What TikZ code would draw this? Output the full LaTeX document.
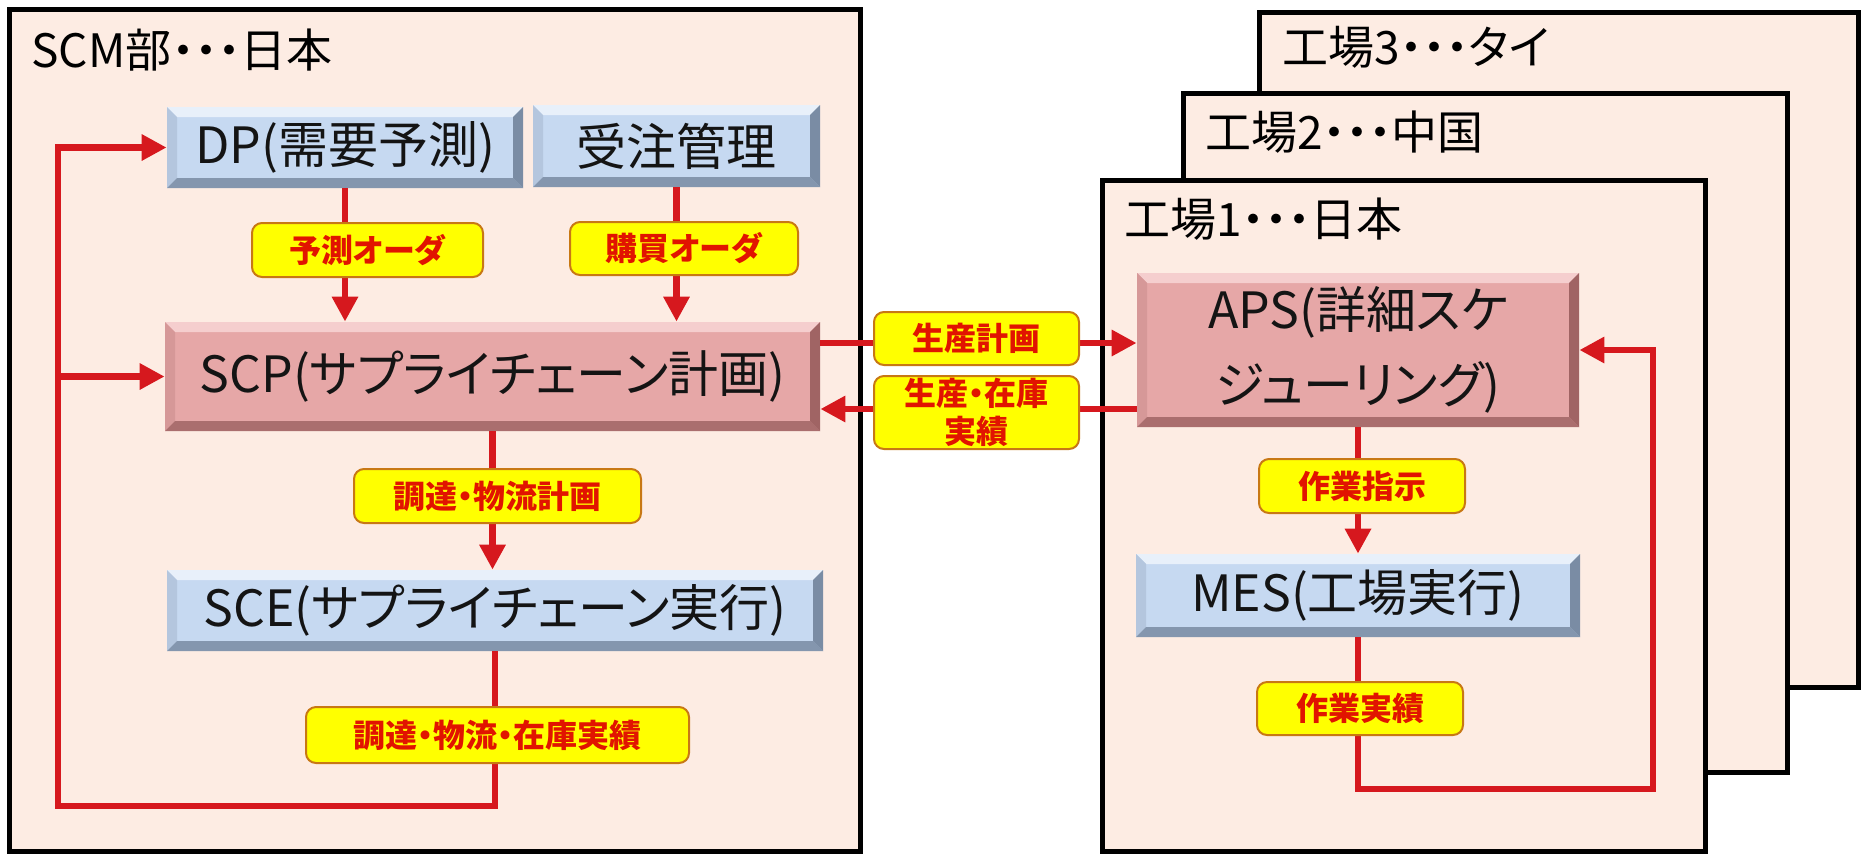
\documentclass[tikz,border=0pt]{standalone}
\usepackage{fontspec}
\newfontfamily\jp[RawFeature=+palt]{Noto Sans CJK JP}
\usetikzlibrary{arrows.meta,calc}
\definecolor{peach}{RGB}{253,236,227}
\definecolor{arr}{RGB}{214,24,30}
\definecolor{lblfill}{RGB}{255,255,0}
\definecolor{lbldraw}{RGB}{200,120,20}
\definecolor{lbltext}{RGB}{225,20,0}
\definecolor{bface}{RGB}{198,217,241}
\definecolor{btop}{RGB}{232,240,250}
\definecolor{bleft}{RGB}{180,198,222}
\definecolor{bbot}{RGB}{132,150,174}
\definecolor{bright}{RGB}{122,140,164}
\definecolor{pface}{RGB}{230,167,167}
\definecolor{ptop}{RGB}{245,206,206}
\definecolor{pleft}{RGB}{214,152,152}
\definecolor{pbot}{RGB}{170,110,110}
\definecolor{pright}{RGB}{160,100,100}
\definecolor{txt}{RGB}{20,20,20}
\tikzset{
  frame/.style={draw=black, line width=2.5pt, fill=peach},
  title/.style={font=\jp\fontsize{23}{27}\selectfont, text=black, inner sep=0pt, anchor=west},
  bevbox/.style n args={5}{rectangle, inner sep=0pt, fill=#1, text=txt,
    font=\jp\fontsize{25}{37.5}\selectfont, align=center,
    path picture={
      \fill[#2] (path picture bounding box.north west) -- (path picture bounding box.north east)
        -- ($(path picture bounding box.north east)+(-5pt,-5pt)$) -- ($(path picture bounding box.north west)+(5pt,-5pt)$) -- cycle;
      \fill[#3] (path picture bounding box.north west) -- (path picture bounding box.south west)
        -- ($(path picture bounding box.south west)+(5pt,5pt)$) -- ($(path picture bounding box.north west)+(5pt,-5pt)$) -- cycle;
      \fill[#4] (path picture bounding box.south west) -- (path picture bounding box.south east)
        -- ($(path picture bounding box.south east)+(-5pt,5pt)$) -- ($(path picture bounding box.south west)+(5pt,5pt)$) -- cycle;
      \fill[#5] (path picture bounding box.north east) -- (path picture bounding box.south east)
        -- ($(path picture bounding box.south east)+(-5pt,5pt)$) -- ($(path picture bounding box.north east)+(-5pt,-5pt)$) -- cycle;
    }},
  bluebox/.style={bevbox={bface}{btop}{bleft}{bbot}{bright}},
  pinkbox/.style={bevbox={pface}{ptop}{pleft}{pbot}{pright}},
  lbl/.style={draw=lbldraw, line width=1pt, fill=lblfill, rounded corners=5pt, inner sep=0pt,
    text=lbltext, font=\jp\bfseries\fontsize{16}{19}\selectfont, align=center},
  conn/.style={draw=arr, line width=3.25pt},
  arrow/.style={conn, -{Triangle[length=12.5pt,width=12.5pt]}}
}
\begin{document}
\begin{tikzpicture}[x=0.5pt,y=-0.5pt]
\useasboundingbox (0,0) rectangle (1863,853);
\fill[white] (0,0) rectangle (1863,853);
% factory frames (back to front)
\draw[frame] (1259,12) rectangle (1858,687);
\node[title] (t3) at (1282,47) {工場3・・・タイ};
\draw[frame] (1183,93) rectangle (1787,772);
\node[title] (t2) at (1205,132) {工場2・・・中国};
\draw[frame] (1102,180) rectangle (1705,851);
\node[title] (t1) at (1124,219) {工場1・・・日本};
% SCM frame
\draw[frame] (9,9) rectangle (860,851);
\node[title] (t0) at (31,50) {SCM部・・・日本};
% boxes
\node[bluebox, minimum width=178pt, minimum height=40.5pt] (dp) at (345,147.5) {DP(需要予測)};
\node[bluebox, minimum width=143.5pt, minimum height=41pt] (jc) at (676.5,146) {受注管理};
\node[pinkbox, minimum width=327.5pt, minimum height=54.5pt] (scp) at (492.5,376.5) {SCP(サプライチェーン計画)};
\node[bluebox, minimum width=328pt, minimum height=40.5pt] (sce) at (495,610.5) {SCE(サプライチェーン実行)};
\node[pinkbox, minimum width=221pt, minimum height=77pt] (aps) at (1358,350) {APS(詳細スケ\\ジューリング)};
\node[bluebox, minimum width=222pt, minimum height=41.5pt] (mes) at (1358,595.5) {MES(工場実行)};
% helper coordinates
\coordinate (lb) at (58,806);
\coordinate (rb) at (1653,789);
\coordinate (ya) at (0,343);
\coordinate (yb) at (0,409);
% connectors
\draw[arrow] (dp.south) -- (dp.south |- scp.north);
\draw[arrow] (jc.south) -- (jc.south |- scp.north);
\draw[arrow] (scp.south) -- (scp.south |- sce.north);
\draw[arrow] (sce.south) |- (lb) |- (dp.west);
\draw[arrow] (lb |- scp.west) -- (scp.west);
\draw[arrow] (scp.east |- ya) -- (aps.west |- ya);
\draw[arrow] (aps.west |- yb) -- (scp.east |- yb);
\draw[arrow] (aps.south) -- (aps.south |- mes.north);
\draw[arrow] (mes.south) |- (rb) |- (aps.east);
% labels
\node[lbl, minimum width=115.5pt, minimum height=27pt] (l1) at (367.5,250) {予測オーダ};
\node[lbl, minimum width=114pt, minimum height=26.5pt] (l2) at (684,248.5) {購買オーダ};
\node[lbl, minimum width=143.5pt, minimum height=27pt] (l3) at (497.5,496) {調達・物流計画};
\node[lbl, minimum width=191.5pt, minimum height=28pt] (l4) at (497.5,735) {調達・物流・在庫実績};
\node[lbl, minimum width=102.5pt, minimum height=26.5pt] (l5) at (976.5,338.5) {生産計画};
\node[lbl, minimum width=102.5pt, minimum height=36.5pt] (l6) at (976.5,412.5) {生産・在庫\\実績};
\node[lbl, minimum width=103pt, minimum height=27pt] (l7) at (1362,486) {作業指示};
\node[lbl, minimum width=103pt, minimum height=26.5pt] (l8) at (1360,708.5) {作業実績};
\end{tikzpicture}
\end{document}
